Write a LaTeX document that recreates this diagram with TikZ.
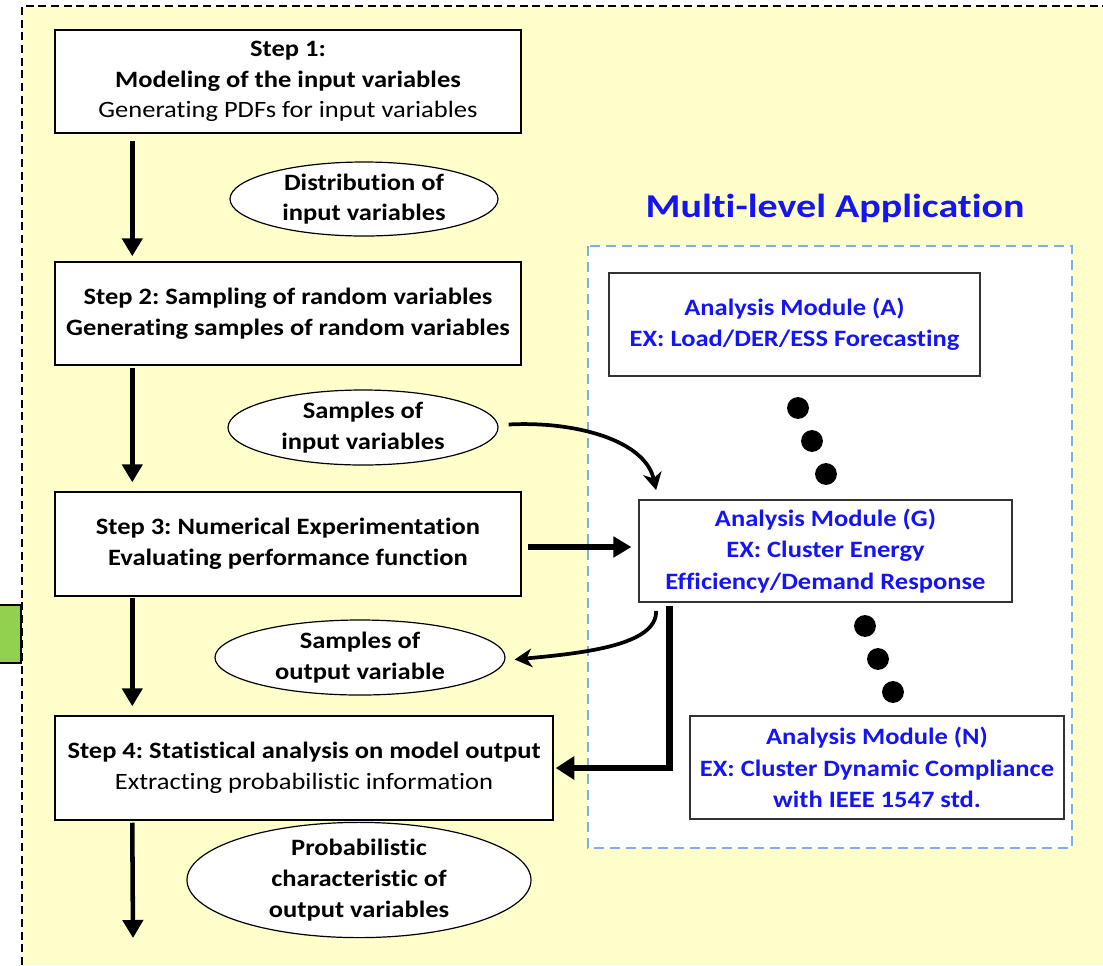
\documentclass[tikz,border=0pt]{standalone}
\usepackage{fontspec}
\setmainfont[FakeStretch=1.13, Ligatures=NoCommon]{Carlito}
\newfontfamily\titlefont[FakeStretch=1.2, Ligatures=NoCommon]{Carlito}
\usetikzlibrary{shapes.geometric,arrows.meta,calc}
\definecolor{paleyellow}{RGB}{255,255,204}
\definecolor{leafgreen}{RGB}{146,208,80}
\definecolor{skyline}{RGB}{125,178,224}
\definecolor{modblue}{RGB}{20,20,245}
\frenchspacing
\begin{document}
\begin{tikzpicture}[x=0.75pt,y=-0.75pt,
  txt/.style={font=\fontsize{17.6}{23}\selectfont},
  stepbox/.style={draw=black, line width=1.1pt, fill=white, align=center,
    inner sep=0pt, txt},
  oval/.style={ellipse, draw=black, line width=0.9pt, fill=white, align=center,
    inner sep=0pt, font=\fontsize{17.6}{23}\selectfont\bfseries},
  modbox/.style={draw=black!80, line width=1.3pt, fill=white, align=center,
    inner sep=0pt, text=modblue, font=\fontsize{17.6}{23.5}\selectfont\bfseries},
  flow/.style={line width=3.4pt, -{Triangle[length=13.5pt,width=15pt]}},
  curvedlink/.style={line width=2.8pt, -{Stealth[length=13pt,width=14pt,inset=4pt]}},
  elbowlink/.style={line width=5.2pt, line join=miter, -{Triangle[length=14pt,width=17pt]}},
  dotmark/.style={fill=black}
]
\useasboundingbox (0,0) rectangle (1103,965);

% page background with dashed top and left edges
\fill[paleyellow] (22,6) rectangle (1103,965);
\draw[line width=1.1pt, dash pattern=on 6pt off 3.5pt] (22,965) -- (22,6) -- (1103,6);

% side tab
\draw[fill=leafgreen, line width=1.6pt] (-2,605) rectangle (21,663);

% application area
\draw[skyline, fill=white, line width=1.5pt, dash pattern=on 7.5pt off 4.5pt]
  (588,246) rectangle (1072,848);
\node[text=modblue, font=\titlefont\fontsize{25}{30}\selectfont\bfseries] (title) at (835,208)
  {Multi-level Application};

% main procedure
\node[stepbox, minimum width=466*0.75pt, minimum height=103*0.75pt] (step1) at (288,81.5)
  {\textbf{Step 1:}\\ \textbf{Modeling of the input variables}\\ Generating PDFs for input variables};
\node[stepbox, minimum width=466*0.75pt, minimum height=103*0.75pt] (step2) at (288,313.5)
  {\textbf{Step 2: Sampling of random variables}\\ \textbf{Generating samples of random variables}};
\node[stepbox, minimum width=466*0.75pt, minimum height=104*0.75pt] (step3) at (288,544)
  {\textbf{Step 3: Numerical Experimentation}\\ \textbf{Evaluating performance function}};
\node[stepbox, minimum width=498*0.75pt, minimum height=104*0.75pt] (step4) at (304,768)
  {\textbf{Step 4: Statistical analysis on model output}\\ Extracting probabilistic information};

% intermediate data
\node[oval, minimum width=268*0.75pt, minimum height=74*0.75pt] (ell1) at (364,199)
  {Distribution of\\ input variables};
\node[oval, minimum width=270*0.75pt, minimum height=75*0.75pt] (ell2) at (363,427.5)
  {Samples of\\ input variables};
\node[oval, minimum width=290*0.75pt, minimum height=75*0.75pt] (ell3) at (360,657.5)
  {Samples of\\ output variable};
\node[oval, minimum width=344*0.75pt, minimum height=96*0.75pt] (ell4) at (359,880)
  {Probabilistic\\ characteristic of\\ output variables};

% analysis modules
\node[modbox, minimum width=371*0.75pt, minimum height=103*0.75pt] (modA) at (794.5,324.5)
  {Analysis Module (A)\\ EX: Load/DER/ESS Forecasting};
\node[modbox, minimum width=373*0.75pt, minimum height=102*0.75pt] (modG) at (825.5,551)
  {Analysis Module (G)\\ EX: Cluster Energy\\ Efficiency/Demand Response};
\node[modbox, minimum width=374*0.75pt, minimum height=103*0.75pt] (modN) at (877,767.5)
  {Analysis Module (N)\\ EX: Cluster Dynamic Compliance\\ with IEEE 1547 std.};

% ellipsis dots between modules
\foreach \cx/\cy in {798/408, 812/441, 826/474, 865/626, 878/659, 893/692}
  \fill[dotmark] (\cx,\cy) circle[radius=8.2pt];

% vertical flow
\draw[flow] ($(step1.south west)+(78,7)$) -- ($(step2.north west)+(78,-5)$);
\draw[flow] ($(step2.south west)+(78,2)$) -- ($(step3.north west)+(78,-9)$);
\draw[flow] ($(step3.south west)+(78,1)$) -- ($(step4.north west)+(78,-9)$);
\coordinate (outend) at (133,938);
\draw[flow] ($(step4.south west)+(78,2)$) -- (outend);

% links to and from the modules
\coordinate (s3out) at ($(step3.east)+(6,3)$);
\draw[flow, line width=3.8pt] (s3out) -- ([xshift=-5pt]s3out -| modG.west);

\coordinate (ell2out) at ($(ell2.east)+(10,-3)$);
\coordinate (gtop) at ($(modG.north west)+(18,-9)$);
\draw[curvedlink] (ell2out) .. controls (575,421) and (645,440) .. (gtop);

\coordinate (gbot) at ($(modG.south west)+(18,8)$);
\coordinate (ell3in) at ($(ell3.east)+(9,2)$);
\draw[curvedlink] (gbot) .. controls (657,645) and (585,653) .. (ell3in);

\draw[elbowlink] ($(modG.south west)+(31,3)$) |- ($(step4.east)+(2,0)$);
\end{tikzpicture}
\end{document}
